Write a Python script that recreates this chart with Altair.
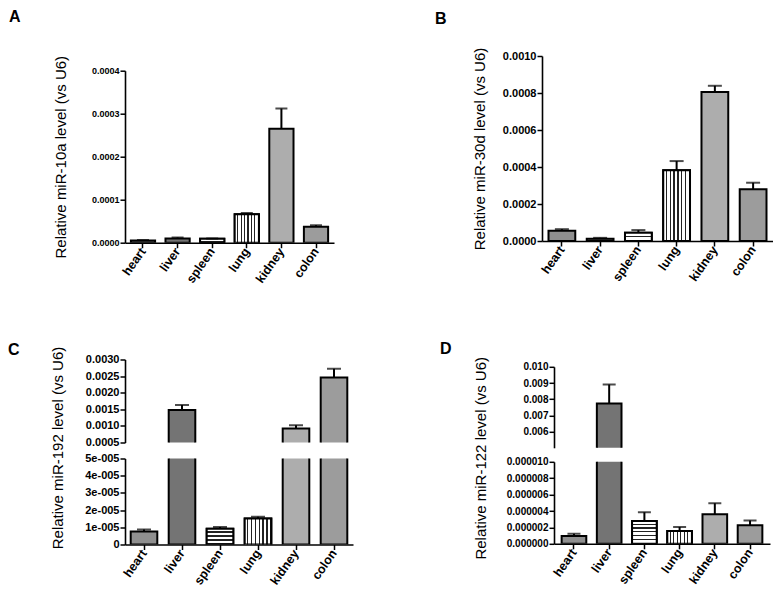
import altair as alt
import pandas as pd

# ---------------- data ----------------
tissues = ["heart", "liver", "spleen", "lung", "kidney", "colon"]

mir10a_mean = [5.0e-6, 1.0e-5, 9.0e-6, 6.6e-5, 2.65e-4, 3.7e-5]
mir10a_sem = [1.0e-6, 2.0e-6, 1.0e-6, 3.0e-6, 4.7e-5, 3.5e-6]

mir30d_mean = [5.6e-5, 1.2e-5, 4.5e-5, 3.82e-4, 8.05e-4, 2.80e-4]
mir30d_sem = [8.0e-6, 5.0e-6, 1.4e-5, 5.0e-5, 3.4e-5, 3.5e-5]

mir192_mean = [7.6e-6, 1.48e-3, 9.2e-6, 1.51e-5, 9.2e-4, 2.46e-3]
mir192_sem = [1.1e-6, 1.5e-4, 1.0e-6, 1.0e-6, 1.0e-4, 2.6e-4]

mir122_mean = [0.95e-6, 7.74e-3, 2.77e-6, 1.55e-6, 3.6e-6, 2.25e-6]
mir122_sem = [0.28e-6, 1.17e-3, 1.07e-6, 0.5e-6, 1.34e-6, 0.6e-6]

ticks_a = [0.0, 0.0001, 0.0002, 0.0003, 0.0004]
ticks_b = [0.0, 0.0002, 0.0004, 0.0006, 0.0008, 0.0010]
ticks_c_top = [0.0005, 0.0010, 0.0015, 0.0020, 0.0025, 0.0030]
ticks_c_bot = [0.0, 1e-5, 2e-5, 3e-5, 4e-5, 5e-5]
ticks_d_top = [0.006, 0.007, 0.008, 0.009, 0.010]
ticks_d_bot = [0.0, 2e-6, 4e-6, 6e-6, 8e-6, 10e-6]

# ---------------- style ----------------
FONT = "Liberation Sans, Arial, Helvetica, sans-serif"
FILLS = ["#8f8f8f", "#747474", "#ffffff", "#ffffff", "#adadad", "#9c9c9c"]


def frame(means, sems):
    return pd.DataFrame({
        "tissue": tissues,
        "value": means,
        "upper": [m + s for m, s in zip(means, sems)],
    })


def stripes(n, vertical_lines, frac=0.32, ink="#222222"):
    stops = []
    for i in range(n):
        s = i / n
        m = (i + 1 - frac) / n
        e = (i + 1) / n
        stops += [
            {"offset": s, "color": "#ffffff"},
            {"offset": m, "color": "#ffffff"},
            {"offset": m, "color": ink},
            {"offset": e, "color": ink},
        ]
    return {
        "gradient": "linear",
        "stops": stops,
        "x1": 0, "y1": 0,
        "x2": 1 if vertical_lines else 0,
        "y2": 0 if vertical_lines else 1,
    }


def y_axis(values, fs, fmt=None, expr=None, title=None, tx=None, ty=None):
    kw = dict(values=values, labelFontSize=fs, labelFontWeight="bold",
              labelFont=FONT, tickSize=5, labelPadding=1, domainWidth=1.6,
              tickWidth=1.5, labelFlush=False, labelOverlap=False,
              domainColor="black", tickColor="black", labelColor="black")
    if fmt is not None:
        kw["format"] = fmt
    if expr is not None:
        kw["labelExpr"] = expr
    if title is not None:
        kw.update(title=title, titleFontSize=15, titleFontWeight="normal",
                  titleFont=FONT, titleColor="black", titleBaseline="bottom")
        if tx is not None:
            kw["titleX"] = tx
        if ty is not None:
            kw["titleY"] = ty
    else:
        kw["title"] = None
    return alt.Axis(**kw)


X_AXIS = alt.Axis(labelAngle=-55, labelFontSize=12.5, labelFontWeight="bold",
                  labelFont=FONT, tickSize=5, labelPadding=1, domainWidth=1.6,
                  tickWidth=1.5, title=None, domainColor="black",
                  tickColor="black", labelColor="black")


def panel(df, domain, yaxis, show_x, outer, width, height, spleen_h, title=None):
    band = alt.Scale(paddingInner=0.3, paddingOuter=outer)
    x = alt.X("tissue:N", sort=tissues, scale=band,
              axis=X_AXIS if show_x else None)
    ysc = alt.Scale(domain=domain, nice=False, zero=False)
    y = alt.Y("value:Q", scale=ysc, axis=yaxis)
    base = alt.Chart(df)
    bars = base.mark_bar(stroke="black", strokeWidth=2, clip=True).encode(
        x=x, y=y, y2=alt.datum(0),
        fill=alt.Fill("tissue:N", scale=alt.Scale(domain=tissues, range=FILLS),
                      legend=None))
    n_sp = max(1, round(spleen_h / 4))
    spleen = base.transform_filter(alt.datum.tissue == "spleen").mark_bar(
        stroke="black", strokeWidth=2, clip=True,
        fill=stripes(n_sp, False)).encode(x=x, y=y, y2=alt.datum(0))
    lung = base.transform_filter(alt.datum.tissue == "lung").mark_bar(
        stroke="black", strokeWidth=2, clip=True,
        fill=stripes(7, True)).encode(x=x, y=y, y2=alt.datum(0))
    rule = base.mark_rule(color="black", strokeWidth=2, clip=True).encode(
        x=x, y=y, y2="upper:Q")
    step = width / (6 - 0.3 + 2 * outer)
    cap = base.mark_tick(color="black", thickness=2, size=round(step * 0.36),
                         clip=True).encode(
        x=x, y=alt.Y("upper:Q", scale=ysc, axis=yaxis))
    props = dict(width=width, height=height)
    if title is not None:
        props["title"] = title
    return alt.layer(bars, spleen, lung, rule, cap).properties(**props)


def letter(t, dx, offset):
    return alt.TitleParams(text=t, anchor="start", frame="group", dx=dx,
                           offset=offset, fontSize=16, fontWeight="bold",
                           font=FONT, color="black", baseline="alphabetic")


def spacer(df, width, title):
    # an empty, invisible strip that only carries the panel letter
    return alt.Chart(df).mark_point(opacity=0).encode(
        x=alt.X("tissue:N", axis=None), y=alt.Y("value:Q", axis=None)
    ).properties(width=width, height=1, title=title)


dfa = frame(mir10a_mean, mir10a_sem)
dfb = frame(mir30d_mean, mir30d_sem)
dfc = frame(mir192_mean, mir192_sem)
dfd = frame(mir122_mean, mir122_sem)

# panel A (pushed 14.7 px below panel B's plot top)
pa_plot = panel(dfa, [0, 0.0004],
                y_axis(ticks_a, 9, fmt=".4f", title="Relative miR-10a level (vs U6)", tx=-57),
                True, 0.17, 209, 172, mir10a_mean[2] / 0.0004 * 172)
pa = alt.vconcat(spacer(dfa, 209, letter("A", -116, 15.8)), pa_plot,
                 spacing=13.7, bounds="flush")

# panel B
pb = panel(dfb, [0, 0.0010],
           y_axis(ticks_b, 11, fmt=".4f", title="Relative miR-30d level (vs U6)", tx=-55),
           True, 0.17, 231, 185, mir30d_mean[2] / 0.0010 * 185,
           title=letter("B", -107, 7))

# panel C (broken axis)
c_top = panel(dfc, [0.0005, 0.0030], y_axis(ticks_c_top, 11, fmt=".4f"),
              False, 0.15, 228, 83, 0, title=letter("C", -117, -17.5))
c_bot = panel(dfc, [0, 5e-5],
              y_axis(ticks_c_bot, 11,
                     expr="datum.value == 0 ? '0' : replace(format(datum.value, '.0e'), 'e-', 'e-00')",
                     title="Relative miR-192 level (vs U6)", tx=-60, ty=-11),
              True, 0.15, 228, 86, mir192_mean[2] / 5e-5 * 86)
pc = alt.vconcat(c_top, c_bot, spacing=16, bounds="flush")

# panel D (broken axis, plot 7 px lower than C)
d_top = panel(dfd, [0.005, 0.010], y_axis(ticks_d_top, 10, fmt=".3f"),
              False, 0.217, 216, 81, 0)
d_bot = panel(dfd, [0, 1e-5],
              y_axis(ticks_d_bot, 10, fmt=".6f",
                     title="Relative miR-122 level (vs U6)", tx=-66, ty=-4),
              True, 0.217, 216, 82, mir122_mean[2] / 1e-5 * 82)
pd_inner = alt.vconcat(d_top, d_bot, spacing=14, bounds="flush")
pd_ = alt.vconcat(spacer(dfd, 216, letter("D", -114, -13.5)), pd_inner,
                  spacing=6.3, bounds="flush")

row1 = alt.hconcat(pa, pb, spacing=101)
row2 = alt.hconcat(pc, pd_, spacing=87)

chart = alt.vconcat(row1, row2, spacing=55.5).properties(
    padding=0
).configure_view(stroke=None).configure_axis(grid=False)

chart.save("out.html", embed_options={"renderer": "svg", "actions": False})
